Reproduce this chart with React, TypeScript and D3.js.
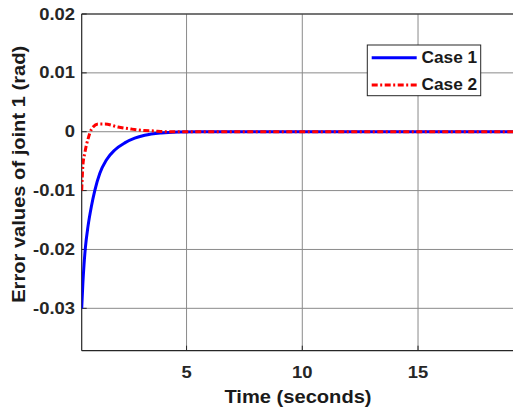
import React from "react";
import * as d3 from "d3";

const timeCase1 = [0.47, 0.52, 0.572, 0.629, 0.745, 0.888, 1.035, 1.25, 1.536, 1.9, 2.33, 2.76, 3.19, 3.91, 4.63, 5.5, 8, 12, 16, 20];
const errCase1 = [-0.0300, -0.0258, -0.0225, -0.0197, -0.0160, -0.0127, -0.0100, -0.0071, -0.0048, -0.0031, -0.0019, -0.0011, -0.0006, -0.0002, -0.00005, 0, 0, 0, 0, 0];

const timeCase2 = [0.47, 0.52, 0.6, 0.745, 0.888, 0.96, 1.18, 1.47, 2.04, 2.62, 3.19, 3.48, 4.2, 5, 8, 12, 16, 20];
const errCase2 = [-0.0100, -0.0058, -0.0037, -0.0012, 0.0004, 0.0008, 0.0013, 0.0013, 0.0008, 0.00045, 0.0002, 0.00015, 0, 0, 0, 0, 0, 0];

const xTicks = [5, 10, 15, 20];
const yTicks = [-0.03, -0.02, -0.01, 0, 0.01, 0.02];
const yTickLabels = ["-0.03", "-0.02", "-0.01", "0", "0.01", "0.02"];
const seriesNames = ["Case 1", "Case 2"];

const W = 513;
const H = 408;
const left = 81.7;
const top = 14;
const bottom = 350.7;

export default function App() {
  const x = d3.scaleLinear().domain([0.47, 20]).range([left, 70.75 + 20 * 23.15]);
  const y = d3.scaleLinear().domain([-0.0372, 0.02]).range([bottom, top]);
  const line = d3
    .line<[number, number]>()
    .x((d) => x(d[0]))
    .y((d) => y(d[1]))
    .curve(d3.curveMonotoneX);
  const d1 = line(timeCase1.map((t, i) => [t, errCase1[i]] as [number, number])) || "";
  const d2 = line(timeCase2.map((t, i) => [t, errCase2[i]] as [number, number])) || "";
  const font = "'Liberation Sans', Arial, sans-serif";
  const grid = "#8a8a8a";
  const axis = "#262626";

  return (
    <svg width={W} height={H} style={{ position: "absolute", left: 0, top: 0, background: "#fff" }}>
      <defs>
        <clipPath id="plot">
          <rect x={left} y={top - 2} width={W - left} height={bottom - top + 4} />
        </clipPath>
      </defs>
      {xTicks.map((t) => (
        <line key={"gx" + t} x1={x(t)} x2={x(t)} y1={top} y2={bottom} stroke={grid} strokeWidth={1} />
      ))}
      {yTicks.map((t) => (
        <line key={"gy" + t} x1={left} x2={W} y1={y(t)} y2={y(t)} stroke={grid} strokeWidth={1} />
      ))}
      <line x1={left} x2={left} y1={top} y2={bottom} stroke={axis} strokeWidth={1.2} />
      <line x1={left} x2={W} y1={bottom} y2={bottom} stroke={axis} strokeWidth={1.2} />
      <line x1={left} x2={W} y1={top} y2={top} stroke={axis} strokeWidth={1.2} />
      {xTicks.map((t) => (
        <line key={"tx" + t} x1={x(t)} x2={x(t)} y1={bottom} y2={bottom - 5} stroke={axis} strokeWidth={1} />
      ))}
      {yTicks.map((t) => (
        <line key={"ty" + t} x1={left} x2={left + 5} y1={y(t)} y2={y(t)} stroke={axis} strokeWidth={1} />
      ))}
      <g clipPath="url(#plot)">
        <path d={d1} fill="none" stroke="#0000ff" strokeWidth={3} />
        <path d={d2} fill="none" stroke="#ff0000" strokeWidth={3} strokeDasharray="6,2.5,2,2.5" />
      </g>
      {yTicks.map((t, i) => (
        <text
          key={"ly" + t}
          transform={`translate(75,${y(t)}) scale(1.15,1)`}
          textAnchor="end"
          dominantBaseline="central"
          fontFamily={font}
          fontWeight="bold"
          fontSize={16}
          fill="#262626"
        >
          {yTickLabels[i]}
        </text>
      ))}
      {xTicks.filter((t) => x(t) < W).map((t) => (
        <text
          key={"lx" + t}
          transform={`translate(${x(t)},372) scale(1.15,1)`}
          textAnchor="middle"
          dominantBaseline="central"
          fontFamily={font}
          fontWeight="bold"
          fontSize={16}
          fill="#262626"
        >
          {t}
        </text>
      ))}
      <text
        transform={`translate(298,397) scale(1.15,1)`}
        textAnchor="middle"
        dominantBaseline="central"
        fontFamily={font}
        fontWeight="bold"
        fontSize={17.5}
        fill="#1a1a1a"
      >
        Time (seconds)
      </text>
      <text
        transform={`translate(19,${(top + bottom) / 2 - 8}) rotate(-90) scale(1.15,1)`}
        textAnchor="middle"
        dominantBaseline="central"
        fontFamily={font}
        fontWeight="bold"
        fontSize={17.5}
        fill="#1a1a1a"
      >
        Error values of joint 1 (rad)
      </text>
      <rect x={367.3} y={45} width={113.4} height={50.7} fill="#fff" stroke="#262626" strokeWidth={1} />
      <line x1={371.7} x2={416.7} y1={57.7} y2={57.7} stroke="#0000ff" strokeWidth={3} />
      <line x1={371.7} x2={416.7} y1={85} y2={85} stroke="#ff0000" strokeWidth={3} strokeDasharray="6,2.5,2,2.5" />
      {seriesNames.map((n, i) => (
        <text
          key={n}
          transform={`translate(421.5,${i === 0 ? 58 : 85}) scale(1.08,1)`}
          dominantBaseline="central"
          fontFamily={font}
          fontWeight="bold"
          fontSize={16}
          fill="#1a1a1a"
        >
          {n}
        </text>
      ))}
    </svg>
  );
}
